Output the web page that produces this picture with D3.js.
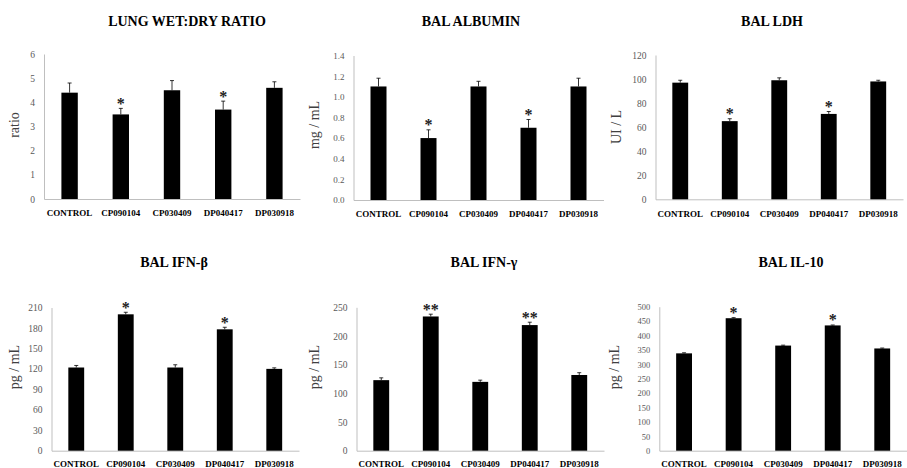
<!DOCTYPE html>
<html>
<head>
<meta charset="utf-8">
<script src="https://cdn.jsdelivr.net/npm/d3@7"></script>
<style>
  body { margin: 0; background: #fff; }
  text { font-family: "Liberation Serif", "Times New Roman", serif; }
</style>
</head>
<body>
<script>
var w = 907, h = 468;

// data
var categories = ["CONTROL", "CP090104", "CP030409", "DP040417", "DP030918"];
var titles = ["LUNG WET:DRY RATIO", "BAL ALBUMIN", "BAL LDH", "BAL IFN-\u03b2", "BAL IFN-\u03b3", "BAL IL-10"];
var yLabels = ["ratio", "mg / mL", "UI / L", "pg / mL", "pg / mL", "pg / mL"];
var yMax = [6, 1.4, 120, 210, 250, 500];
var yStep = [1, 0.2, 20, 30, 50, 50];

var ratioMean = [4.4, 3.5, 4.5, 3.7, 4.6];
var ratioErr = [0.4, 0.25, 0.4, 0.35, 0.25];
var albuminMean = [1.1, 0.6, 1.1, 0.7, 1.1];
var albuminErr = [0.08, 0.08, 0.05, 0.08, 0.08];
var ldhMean = [97, 65, 99, 71, 98];
var ldhErr = [2, 2, 2, 2, 1];
var ifnbMean = [122, 200, 122, 178, 120];
var ifnbErr = [3, 3, 4, 3, 1.5];
var ifngMean = [123, 234, 120, 219, 132];
var ifngErr = [4, 4, 3, 5, 4];
var il10Mean = [338, 460, 365, 435, 355];
var il10Err = [2, 2, 1.5, 1.5, 1.5];
var stars = [["", "*", "", "*", ""], ["", "*", "", "*", ""], ["", "*", "", "*", ""],
             ["", "*", "", "*", ""], ["", "**", "", "**", ""], ["", "*", "", "*", ""]];

var means = [ratioMean, albuminMean, ldhMean, ifnbMean, ifngMean, il10Mean];
var errs = [ratioErr, albuminErr, ldhErr, ifnbErr, ifngErr, il10Err];

// layout of each panel: plot area, title and axis label positions
var layout = [
  { x0: 44, x1: 300, top: 54, bottom: 199, titleX: 187, titleY: 26, labY: 125, labX: 19, fs: 9.5 },
  { x0: 353.5, x1: 603.5, top: 55.5, bottom: 200, titleX: 471, titleY: 26, labY: 125, labX: 319, fs: 9 },
  { x0: 655.5, x1: 903, top: 55, bottom: 199.3, titleX: 772, titleY: 26, labY: 127, labX: 621, fs: 9.5 },
  { x0: 51.5, x1: 299, top: 307.5, bottom: 450.7, titleX: 174, titleY: 267, labY: 367, labX: 19, fs: 9.5 },
  { x0: 356.5, x1: 604, top: 307.3, bottom: 450.7, titleX: 484, titleY: 267, labY: 367, labX: 319, fs: 9.5 },
  { x0: 659.3, x1: 907, top: 306.7, bottom: 450.7, titleX: 791, titleY: 267, labY: 367, labX: 619, fs: 8.5 }
];

var svg = d3.select("body")
    .append("svg")
    .attr("width", w)
    .attr("height", h)

layout.forEach(function (L, p) {
    var g = svg.append("g")

    var x = d3.scaleBand().domain(categories).range([L.x0, L.x1]).paddingInner(0.68).paddingOuter(0.34)
    var y = d3.scaleLinear().domain([0, yMax[p]]).range([L.bottom, L.top])

    // title
    g.append("text")
        .attr("x", L.titleX).attr("y", L.titleY)
        .attr("text-anchor", "middle")
        .attr("font-weight", "bold")
        .attr("font-size", 14)
        .attr("fill", "#000")
        .text(titles[p])

    // y label
    g.append("text")
        .attr("transform", "translate(" + L.labX + "," + L.labY + ") rotate(-90)")
        .attr("text-anchor", "middle")
        .attr("font-size", 14)
        .attr("fill", "#404040")
        .text(yLabels[p])

    // y axis
    var ticks = d3.range(0, yMax[p] + yStep[p] / 2, yStep[p])
    var fmt = yStep[p] < 1 ? d3.format(".1f") : d3.format("d")
    var yAxis = g.append("g")
        .attr("transform", "translate(" + L.x0 + ",0)")
        .call(d3.axisLeft(y).tickValues(ticks).tickFormat(fmt).tickSize(0).tickPadding(9))
    yAxis.select(".domain").attr("stroke", "#bfbfbf")
    yAxis.selectAll("text")
        .attr("font-size", L.fs)
        .attr("fill", "#595959")

    // x axis
    var xAxis = g.append("g")
        .attr("transform", "translate(0," + L.bottom + ")")
        .call(d3.axisBottom(x).tickSize(0).tickPadding(p < 3 ? 11 : 10))
    xAxis.select(".domain").attr("stroke", "#bfbfbf")
    xAxis.selectAll("text")
        .attr("font-size", 9)
        .attr("font-weight", "bold")
        .attr("fill", "#000")

    var rows = categories.map(function (c, i) {
        return { cat: c, v: means[p][i], e: errs[p][i], s: stars[p][i] }
    })

    // error bars
    g.selectAll(".err").data(rows).enter().append("path")
        .attr("class", "err")
        .attr("stroke", "#000")
        .attr("stroke-width", 0.8)
        .attr("fill", "none")
        .attr("d", function (d) {
            var cx = x(d.cat) + x.bandwidth() / 2
            return "M" + cx + "," + y(d.v) + "V" + y(d.v + d.e) + "M" + (cx - 2) + "," + y(d.v + d.e) + "H" + (cx + 2)
        })

    // bars
    g.selectAll(".bar").data(rows).enter().append("rect")
        .attr("class", "bar")
        .attr("x", function (d) { return x(d.cat) })
        .attr("width", x.bandwidth())
        .attr("y", function (d) { return y(d.v) })
        .attr("height", function (d) { return y(0) - y(d.v) })
        .attr("fill", "#000")

    // significance stars
    g.selectAll(".star").data(rows.filter(function (d) { return d.s })).enter().append("text")
        .attr("class", "star")
        .attr("x", function (d) { return x(d.cat) + x.bandwidth() / 2 })
        .attr("y", function (d) { return y(d.v + d.e) + 0.5 })
        .attr("text-anchor", "middle")
        .attr("font-size", 16)
        .attr("font-weight", "bold")
        .attr("fill", "#222")
        .text(function (d) { return d.s })
})
</script>
</body>
</html>
